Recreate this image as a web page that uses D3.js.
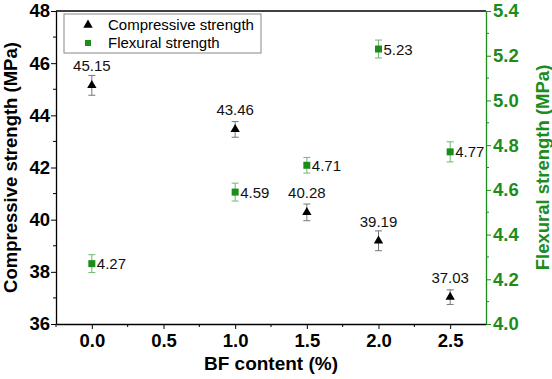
<!DOCTYPE html>
<html>
<head>
<meta charset="utf-8">
<script src="https://cdn.jsdelivr.net/npm/d3@7"></script>
<style>
  body { margin: 0; background: #fff; }
  svg { font-family: Arial, "Liberation Sans", sans-serif; }
</style>
</head>
<body>
<div class="canvas"></div>
<script>
// data
const bfContent = [0.0, 1.0, 1.5, 2.0, 2.5];
const compressive = [45.15, 43.46, 40.28, 39.19, 37.03];
const compressiveErr = [0.38, 0.3, 0.32, 0.38, 0.28];
const flexural = [4.27, 4.59, 4.71, 5.23, 4.77];
const flexuralErr = [0.04, 0.04, 0.035, 0.04, 0.045];
const xTicks = [0.0, 0.5, 1.0, 1.5, 2.0, 2.5];
const yLeftTicks = [36, 38, 40, 42, 44, 46, 48];
const yRightTicks = [4.0, 4.2, 4.4, 4.6, 4.8, 5.0, 5.2, 5.4];

const green = '#1c8c1c';
const width = 552, height = 379;
const margin = { top: 11, right: 66, bottom: 55, left: 56 };
const graphWidth = width - margin.left - margin.right;
const graphHeight = height - margin.top - margin.bottom;

const svg = d3.select('.canvas')
  .append('svg')
  .attr('width', width)
  .attr('height', height);

const graph = svg.append('g')
  .attr('transform', `translate(${margin.left}, ${margin.top})`);

const x = d3.scaleLinear().domain([-0.25, 2.75]).range([0, graphWidth]);
const yL = d3.scaleLinear().domain([36, 48]).range([graphHeight, 0]);
const yR = d3.scaleLinear().domain([4.0, 5.4]).range([graphHeight, 0]);

// top frame line
graph.append('line')
  .attr('x1', 0).attr('x2', graphWidth)
  .attr('y1', 0).attr('y2', 0)
  .attr('stroke', '#000').attr('stroke-width', 1.3);

// minor ticks
const minor = (g, vals, fn) => g.selectAll(null).data(vals).enter().append('line').each(fn);

const xAxis = graph.append('g')
  .attr('transform', `translate(0, ${graphHeight})`)
  .call(d3.axisBottom(x).tickValues(xTicks).tickFormat(d3.format('.1f')).tickSize(5).tickSizeOuter(0));
minor(xAxis, [-0.25, 0.25, 0.75, 1.25, 1.75, 2.25], function (d) {
  d3.select(this).attr('x1', x(d)).attr('x2', x(d)).attr('y1', 0).attr('y2', 3).attr('stroke', '#000');
});

const yAxisL = graph.append('g')
  .call(d3.axisLeft(yL).tickValues(yLeftTicks).tickSize(5).tickSizeOuter(0));
minor(yAxisL, [37, 39, 41, 43, 45, 47], function (d) {
  d3.select(this).attr('x1', 0).attr('x2', -3).attr('y1', yL(d)).attr('y2', yL(d)).attr('stroke', '#000');
});

const yAxisR = graph.append('g')
  .attr('transform', `translate(${graphWidth}, 0)`)
  .call(d3.axisRight(yR).tickValues(yRightTicks).tickFormat(d3.format('.1f')).tickSize(5).tickSizeOuter(0));
minor(yAxisR, [4.1, 4.3, 4.5, 4.7, 4.9, 5.1, 5.3], function (d) {
  d3.select(this).attr('x1', 0).attr('x2', 3).attr('y1', yR(d)).attr('y2', yR(d)).attr('stroke', green);
});

[xAxis, yAxisL].forEach(g => {
  g.select('.domain').attr('stroke', '#000').attr('stroke-width', 1.3);
  g.selectAll('.tick line').attr('stroke', '#000');
  g.selectAll('text').attr('fill', '#000').style('font-size', '18.5px').style('font-weight', 'bold');
});
yAxisR.select('.domain').attr('stroke', green).attr('stroke-width', 1.3);
yAxisR.selectAll('.tick line').attr('stroke', green);
yAxisR.selectAll('text').attr('fill', green).style('font-size', '18.5px').style('font-weight', 'bold');
xAxis.selectAll('text').attr('dy', '0.8em');
yAxisL.selectAll('text').attr('x', -6);
yAxisR.selectAll('text').attr('x', 7);

// axis titles
svg.append('text')
  .attr('x', margin.left + x(1.25)).attr('y', 370)
  .attr('text-anchor', 'middle')
  .style('font-size', '19px').style('font-weight', 'bold')
  .text('BF content (%)');
svg.append('text')
  .attr('transform', `translate(17, ${margin.top + graphHeight / 2}) rotate(-90)`)
  .attr('text-anchor', 'middle')
  .style('font-size', '18.5px').style('font-weight', 'bold')
  .text('Compressive strength (MPa)');
svg.append('text')
  .attr('transform', `translate(549, ${margin.top + graphHeight / 2}) rotate(-90)`)
  .attr('text-anchor', 'middle')
  .attr('fill', green)
  .style('font-size', '18.5px').style('font-weight', 'bold')
  .text('Flexural strength (MPa)');

// error bars
const errBars = (vals, errs, y, color) => {
  const g = graph.append('g');
  vals.forEach((v, i) => {
    const cx = x(bfContent[i]);
    const y1 = y(v + errs[i]), y2 = y(v - errs[i]);
    g.append('line').attr('x1', cx).attr('x2', cx).attr('y1', y1).attr('y2', y2).attr('stroke', color);
    [y1, y2].forEach(yy => g.append('line')
      .attr('x1', cx - 3.5).attr('x2', cx + 3.5).attr('y1', yy).attr('y2', yy).attr('stroke', color));
  });
};
errBars(compressive, compressiveErr, yL, '#777');
errBars(flexural, flexuralErr, yR, '#6fb86f');

// markers
const tri = d3.symbol().type(d3.symbolTriangle).size(38);
graph.selectAll('.comp').data(compressive).enter().append('path')
  .attr('d', tri)
  .attr('transform', (d, i) => `translate(${x(bfContent[i])}, ${yL(d)})`)
  .attr('fill', '#000');
graph.selectAll('.flex').data(flexural).enter().append('rect')
  .attr('x', (d, i) => x(bfContent[i]) - 3.5)
  .attr('y', d => yR(d) - 3.5)
  .attr('width', 7).attr('height', 7)
  .attr('fill', green);

// value labels
graph.selectAll('.compLabel').data(compressive).enter().append('text')
  .attr('x', (d, i) => x(bfContent[i]))
  .attr('y', d => yL(d) - 14)
  .attr('text-anchor', 'middle')
  .style('font-size', '15px')
  .attr('fill', '#111')
  .text(d => d.toFixed(2));
graph.selectAll('.flexLabel').data(flexural).enter().append('text')
  .attr('x', (d, i) => x(bfContent[i]) + 5)
  .attr('y', d => yR(d) + 5.5)
  .style('font-size', '15px')
  .attr('fill', '#111')
  .text(d => d.toFixed(2));

// legend
const legend = graph.append('g').attr('transform', 'translate(8, 3)');
legend.append('rect')
  .attr('width', 197).attr('height', 39)
  .attr('fill', '#fff').attr('stroke', '#888');
legend.append('path').attr('d', tri).attr('transform', 'translate(24, 11)').attr('fill', '#000');
legend.append('rect').attr('x', 21).attr('y', 26).attr('width', 6).attr('height', 6).attr('fill', green);
legend.append('text').attr('x', 44).attr('y', 16).style('font-size', '15px').text('Compressive strength');
legend.append('text').attr('x', 44).attr('y', 34).style('font-size', '15px').text('Flexural strength');
</script>
</body>
</html>
